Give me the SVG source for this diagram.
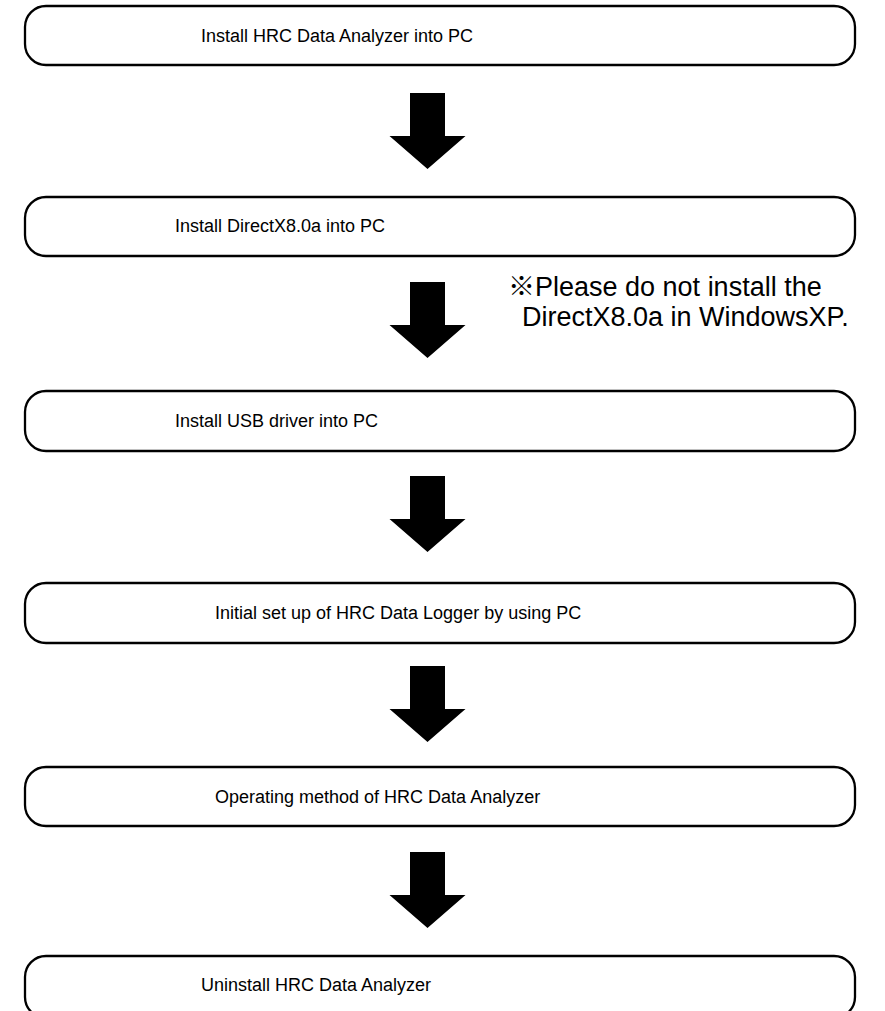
<svg xmlns="http://www.w3.org/2000/svg" width="885" height="1011" viewBox="0 0 885 1011">
<style>
.box{fill:#fff;stroke:#000;stroke-width:2.3}
.lbl{font-family:"Liberation Sans","Noto Sans CJK JP",sans-serif;font-size:18px;fill:#000}
.note{font-family:"Liberation Sans","Noto Sans CJK JP",sans-serif;font-size:27px;fill:#000}
.arr{fill:#000}
</style>
<defs>
<path id="arrow" d="M-17.5,0 H17.5 V43 H38 L0,76 L-38,43 H-17.5 Z"/>
</defs>
<rect width="885" height="1011" fill="#fff"/>
<g id="connectors">
<use href="#arrow" class="arr" x="427.5" y="93"/>
<use href="#arrow" class="arr" x="427.5" y="282"/>
<use href="#arrow" class="arr" x="427.5" y="476"/>
<use href="#arrow" class="arr" x="427.5" y="666"/>
<use href="#arrow" class="arr" x="427.5" y="852"/>
</g>
<g id="node1"><rect class="box" x="25" y="6" width="830" height="59" rx="21"/><text class="lbl" x="201" y="42">Install HRC Data Analyzer into PC</text></g>
<g id="node2"><rect class="box" x="25" y="197" width="830" height="59" rx="21"/><text class="lbl" x="175" y="232">Install DirectX8.0a into PC</text></g>
<g id="node3"><rect class="box" x="25" y="391" width="830" height="60" rx="21"/><text class="lbl" x="175" y="427">Install USB driver into PC</text></g>
<g id="node4"><rect class="box" x="25" y="583" width="830" height="60" rx="21"/><text class="lbl" x="215" y="619">Initial set up of HRC Data Logger by using PC</text></g>
<g id="node5"><rect class="box" x="25" y="767" width="830" height="59" rx="21"/><text class="lbl" x="215" y="803">Operating method of HRC Data Analyzer</text></g>
<g id="node6"><rect class="box" x="25" y="956" width="830" height="62" rx="21"/><text class="lbl" x="201" y="991">Uninstall HRC Data Analyzer</text></g>
<g id="note"><text class="note" x="508" y="296">※Please do not install the</text><text class="note" x="522" y="326">DirectX8.0a in WindowsXP.</text></g>
</svg>
